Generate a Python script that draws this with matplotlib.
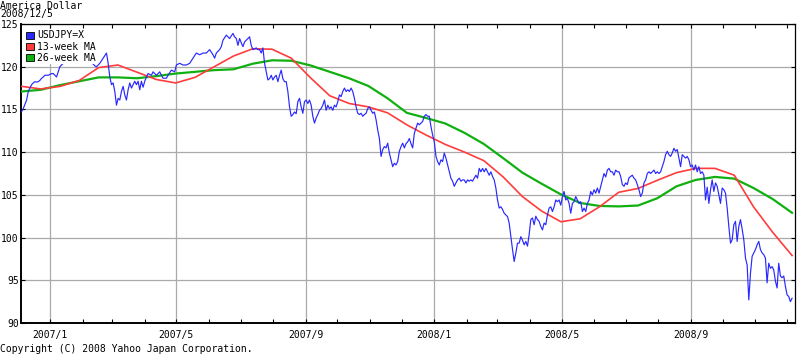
import matplotlib
matplotlib.use("Agg")
import matplotlib.pyplot as plt
import matplotlib.dates as mdates
from matplotlib.patches import Patch
import numpy as np
import pandas as pd

# ---------------- data ----------------
title_line1 = "America Dollar"
title_line2 = "2008/12/5"
copyright_text = "Copyright (C) 2008 Yahoo Japan Corporation."
series_names = ["USDJPY=X", "13-week MA", "26-week MA"]
start_date = "2006-12-05"
end_date = "2008-12-06"

usdjpy_2006_12_to_2007_06 = [
    114.74, 115.1, 115.6, 116.1, 117.1, 117.5, 117.9, 118.1, 118.25, 118.2,
    118.25, 118.4, 118.65, 118.8, 119.0, 119.0, 119.0, 119.1, 119.2, 119.2,
    119.0, 118.8, 119.4, 120.0, 120.2, 120.4,
    120.7, 120.9, 121.2, 121.4, 121.6, 121.3, 121.5, 121.7, 121.4, 121.1, 120.8, 121.0, 120.7,
    120.6, 120.7, 120.5, 120.6, 120.3, 120.1, 120.0, 120.2, 120.4, 120.7,
    121.0, 121.3, 121.6, 120.4, 118.8, 117.9, 118.1, 117.1, 115.5, 116.3,
    116.1, 117.1, 117.7, 116.7, 116.1, 117.3, 118.1, 117.5, 117.9, 118.3,
    117.9, 118.3, 117.3, 118.3, 117.6, 118.3, 118.8, 119.2, 119.1, 119.0,
    119.4, 119.2, 119.0, 119.2, 119.4, 119.0, 118.65, 118.65, 118.65, 119.0,
    119.3, 119.6, 119.5, 119.4, 120.2, 120.3, 120.4, 120.3, 120.2, 120.2,
    120.2, 120.3, 120.4, 120.7, 121.0, 121.3, 121.6, 121.5, 121.4, 121.5,
    121.6, 121.6, 121.6, 121.8, 122.0, 121.7, 121.4,
]
usdjpy_2007_06_to_2007_12 = [
    121.0, 121.6, 121.8, 122.0, 122.35, 123.1, 123.4, 123.7, 123.5, 123.3,
    123.6, 123.9, 123.5, 123.3, 122.5, 123.3, 122.8, 122.35, 122.9, 123.1,
    123.3, 123.5, 122.5, 122.0, 122.1, 122.2, 122.0, 122.0, 121.6, 122.2,
    120.4, 119.4, 118.45, 118.6, 119.0, 118.45, 118.8, 119.0, 118.25, 119.0,
    119.6, 118.6, 118.25, 118.25, 117.1, 115.3, 114.2, 114.4, 114.7, 114.5,
    115.9, 116.3, 115.3, 114.55, 115.9, 116.1, 115.7, 116.1, 115.5, 114.2,
    113.4, 114.0, 114.4, 114.9, 115.1, 115.5, 116.1, 114.9, 115.5, 115.1,
    115.3, 114.9, 115.5, 115.3, 115.9, 116.7, 116.5, 117.1, 117.5, 117.1,
    117.3, 117.1, 117.5, 117.1, 116.3, 115.3, 114.55, 114.4, 114.55, 114.2,
    114.4, 114.55, 115.1, 115.3, 114.9, 114.55, 114.7, 113.8, 112.6, 111.6,
    109.5, 110.3, 110.65, 110.5, 111.05, 109.9, 109.1, 108.3, 108.7, 108.5,
    108.9, 110.1, 110.65, 111.05, 110.5,
]
usdjpy_2007_12_to_2008_06 = [
    111.0, 111.2, 111.6, 111.0, 110.5, 112.2, 112.8, 113.4, 113.2, 113.4,
    113.6, 114.2, 114.4, 114.2, 114.2, 113.0, 112.0, 111.2, 109.5, 108.9,
    108.5, 109.1, 108.9, 109.9, 109.3, 108.5, 107.7, 106.95, 106.6, 106.0,
    106.4, 106.75, 106.95, 106.6, 106.75, 106.75, 106.4, 106.75, 106.6, 106.75,
    106.6, 106.95, 107.3, 106.95, 108.1, 107.7, 108.1, 107.7, 108.1, 107.7,
    107.3, 107.7, 107.15, 106.75, 105.8, 104.4, 103.45, 103.6, 103.3, 102.85,
    102.65, 102.45, 101.7, 100.1, 98.6, 97.2, 98.2, 99.35, 99.35, 100.1,
    99.7, 99.15, 99.55, 99.0, 100.35, 102.1, 102.3, 101.5, 102.5, 102.1,
    101.9, 101.3, 100.9, 101.7, 101.5, 102.65, 103.45, 103.6, 103.05, 103.6,
    104.4, 104.2, 104.4, 103.8, 104.8, 105.4, 104.4, 104.6, 104.0, 102.85,
    104.0, 104.2, 104.8, 104.4, 104.0, 104.2, 103.05, 103.45, 103.05, 104.0,
    104.4, 105.4, 105.0, 105.6, 105.2, 105.8,
]
usdjpy_2008_06_to_2008_12 = [
    105.2, 106.0, 106.75, 107.5, 107.1, 107.9, 108.1, 107.7, 107.7, 107.3,
    107.9, 107.7, 107.7, 107.15, 106.2, 106.0, 106.4, 106.2, 107.0, 107.15,
    107.3, 106.95, 106.75, 106.2, 105.6, 104.8, 105.2, 106.4, 106.75, 107.5,
    107.7, 107.5, 107.7, 107.9, 107.5, 107.7, 107.5, 107.7, 108.3, 108.9,
    109.7, 110.1, 109.7, 109.5, 109.9, 110.45, 110.1, 110.3, 109.3, 108.3,
    109.7, 109.5, 109.3, 109.5, 109.1, 108.3, 108.5, 107.9, 108.5, 107.7,
    108.3, 107.5, 107.7, 107.3, 104.4, 105.9, 104.0, 105.6, 106.75, 105.4,
    106.4, 106.0, 105.0, 104.0, 105.8, 105.6, 105.2, 103.45, 101.3, 99.35,
    99.75, 101.5, 101.9, 99.55, 101.3, 102.1, 101.0, 99.75, 97.6, 96.8,
    92.7, 95.8, 97.8, 98.2, 98.6, 99.15, 99.55, 98.6, 98.2, 98.0,
    97.6, 94.7, 97.0, 96.4, 96.6, 96.2, 94.9, 94.1, 97.0, 95.5,
    95.3, 95.5, 94.3, 93.3, 93.1, 92.5, 92.9,
]

ma13 = [
    117.7, 117.4, 117.7, 118.4, 119.9, 120.2, 119.35, 118.5, 118.1, 118.75,
    120.0, 121.25, 122.1, 122.05, 121.0, 118.7, 116.6, 115.7, 115.3, 114.6,
    113.2, 112.0, 110.9, 110.0, 109.0, 107.1, 104.8, 103.1, 101.85, 102.2,
    103.6, 105.3, 105.75, 106.7, 107.6, 108.1, 108.1, 107.3, 103.6, 100.6,
    97.9,
]
ma26 = [
    117.1, 117.3, 117.85, 118.3, 118.75, 118.75, 118.65, 118.9, 119.2, 119.4,
    119.6, 119.7, 120.35, 120.75, 120.7, 120.15, 119.4, 118.65, 117.75, 116.3,
    114.6, 114.0, 113.35, 112.25, 110.95, 109.3, 107.6, 106.3, 105.05, 104.05,
    103.7, 103.65, 103.75, 104.6, 106.0, 106.75, 107.1, 106.9, 105.8, 104.5,
    102.9,
]

y_ticks = [90, 95, 100, 105, 110, 115, 120, 125]
colors = ["#2828ff", "#ff3c3c", "#10b010"]

# ---------------- figure ----------------
mono = "DejaVu Sans Mono"
plt.rcParams["font.family"] = mono
fs = 7

usdjpy = (usdjpy_2006_12_to_2007_06 + usdjpy_2007_06_to_2007_12
          + usdjpy_2007_12_to_2008_06 + usdjpy_2008_06_to_2008_12)
dates = pd.date_range(start_date, end_date, periods=len(usdjpy))
ma_dates = pd.date_range(start_date, end_date, periods=len(ma13))

fig = plt.figure(figsize=(8.0, 3.56), dpi=100)
ax = fig.add_axes([21 / 800, 33 / 356, 774 / 800, 299 / 356])

ax.plot(ma_dates, ma26, color=colors[2], lw=1.6, zorder=3, solid_joinstyle="miter")
ax.plot(ma_dates, ma13, color=colors[1], lw=1.2, zorder=4)
ax.plot(dates, usdjpy, color=colors[0], lw=0.85, zorder=5)

ax.set_xlim(pd.Timestamp("2006-12-04 10:00"), pd.Timestamp("2008-12-08 19:00"))
ax.set_ylim(90, 125)

ax.set_yticks(y_ticks)
ax.set_yticklabels([str(v) for v in y_ticks])

ax.xaxis.set_major_locator(mdates.MonthLocator(bymonth=[1, 5, 9]))
ax.xaxis.set_minor_locator(mdates.MonthLocator())
ax.xaxis.set_major_formatter(
    plt.FuncFormatter(lambda v, p: f"{mdates.num2date(v).year}/{mdates.num2date(v).month}"))

ax.grid(True, which="major", color="#aaaaaa", lw=0.9, zorder=1)
ax.set_axisbelow(True)

ax.tick_params(axis="x", which="both", direction="in", top=True, bottom=True,
               length=3, width=0.8, labelsize=fs, pad=5, color="black")
ax.tick_params(axis="y", which="both", direction="in", left=True, right=True,
               length=3, width=0.8, labelsize=fs, pad=1.5, color="black")

for side in ["left", "bottom"]:
    ax.spines[side].set_linewidth(1.4)
for side in ["top", "right"]:
    ax.spines[side].set_linewidth(0.9)

handles = [Patch(facecolor=c, edgecolor="black", linewidth=0.6) for c in colors]
leg = ax.legend(handles, series_names, loc="upper left",
                bbox_to_anchor=(4 / 774, 1 - 5 / 299), borderaxespad=0,
                fontsize=fs, frameon=True, fancybox=False, framealpha=1,
                edgecolor="none", facecolor="white", borderpad=0.15,
                labelspacing=0.12, handlelength=0.75, handleheight=0.75,
                handletextpad=0.35)
leg.set_zorder(10)

fig.text(0.0, 1 - 9 / 356, title_line1, fontsize=fs, va="baseline", ha="left")
fig.text(0.0, 1 - 17.5 / 356, title_line2, fontsize=fs, va="baseline", ha="left")
fig.text(0.0, 4 / 356, copyright_text, fontsize=fs, va="baseline", ha="left")

fig.savefig("out.png", dpi=100)
